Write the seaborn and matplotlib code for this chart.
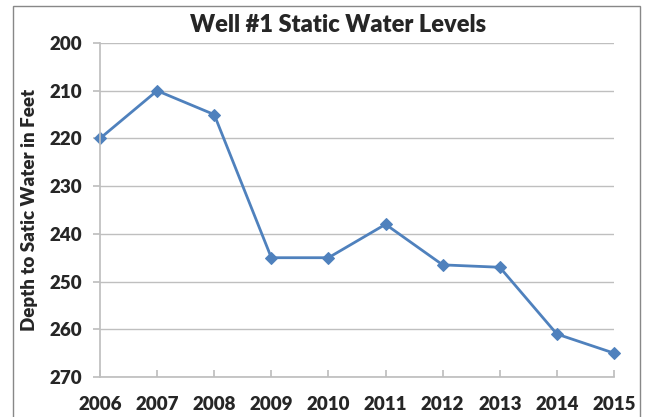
import matplotlib
matplotlib.use("Agg")
import matplotlib.pyplot as plt
import seaborn as sns
import pandas as pd
from matplotlib.patches import Rectangle

years = [2006, 2007, 2008, 2009, 2010, 2011, 2012, 2013, 2014, 2015]
depth = [220, 210, 215, 245, 245, 238, 246.5, 247, 261, 265]
yticks = [200, 210, 220, 230, 240, 250, 260, 270]

df = pd.DataFrame({"Year": years, "Depth": depth})

sns.set_theme(style="white")
plt.rcParams["font.family"] = ["Lato", "DejaVu Sans"]

fig = plt.figure(figsize=(6.46, 4.17), dpi=100)
ax = fig.add_axes([100 / 646, 1 - 377 / 417, 514 / 646, 334 / 417])

sns.lineplot(data=df, x="Year", y="Depth", ax=ax, color="#4F81BD", linewidth=2,
             marker="D", markersize=6, markeredgecolor="#4F81BD", clip_on=False)

ax.set_xlim(2006, 2015)
ax.set_ylim(270, 200)
ax.set_yticks(yticks)
ax.set_xticks(years)
ax.set_xticklabels([str(y) for y in years], fontsize=13.5, fontweight="heavy")
ax.set_yticklabels([str(t) for t in yticks], fontsize=13.5, fontweight="heavy")
ax.grid(axis="y", color="#BFBFBF", linewidth=1)
ax.set_axisbelow(True)
for s in ["top", "right"]:
    ax.spines[s].set_visible(False)
for s in ["left", "bottom"]:
    ax.spines[s].set_color("#BFBFBF")
ax.tick_params(axis="y", direction="out", length=5, color="#BFBFBF", left=True, pad=8)
ax.tick_params(axis="x", direction="in", length=5, color="#BFBFBF", bottom=True, pad=14)
ax.set_xlabel("")
ax.set_ylabel("Depth to Satic Water in Feet", fontsize=13.5, fontweight="heavy", labelpad=8)

fig.text(338 / 646, 1 - 25 / 417, "Well #1 Static Water Levels", ha="center", va="center",
         fontsize=17, fontweight="heavy")

fig.patches.append(Rectangle((13 / 646, -0.05), 627 / 646, 1.05 - 6 / 417,
                             transform=fig.transFigure, fill=False,
                             edgecolor="#888888", linewidth=1))

fig.savefig("out.png", dpi=100)
